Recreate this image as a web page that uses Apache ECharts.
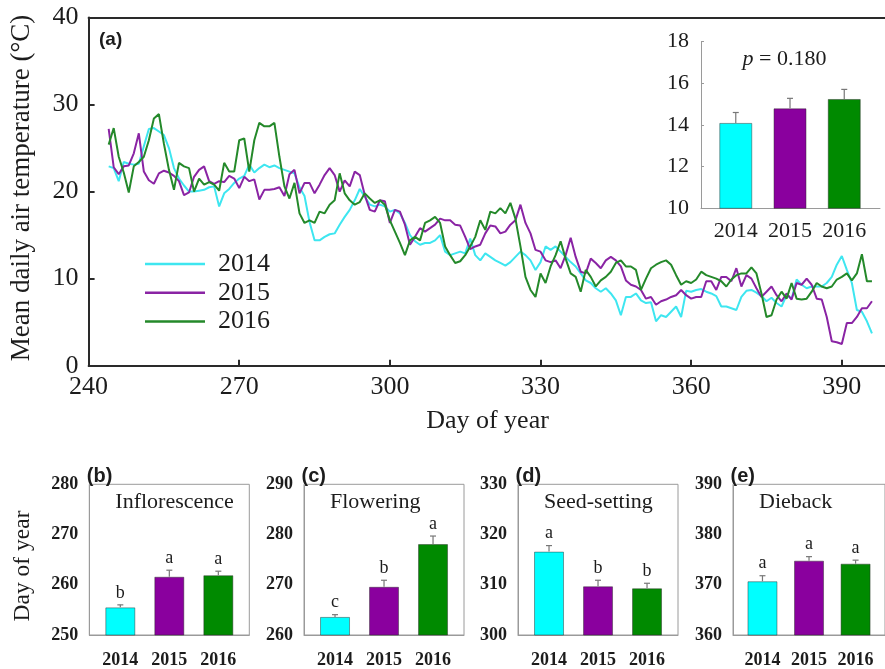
<!DOCTYPE html>
<html>
<head>
<meta charset="utf-8">
<script src="https://cdn.jsdelivr.net/npm/echarts@6/dist/echarts.min.js"></script>
<style>
  html, body { margin: 0; padding: 0; background: #fff; }
  #chart { width: 885px; height: 669px; }
</style>
</head>
<body>
<div id="chart"></div>
<script>
// ---- Daily mean air temperature, day of year 244-396 ----
const days = [
  244,245,246,247,248,249,250,251,252,253,254,255,256,257,258,259,260,261,262,263,
  264,265,266,267,268,269,270,271,272,273,274,275,276,277,278,279,280,281,282,283,
  284,285,286,287,288,289,290,291,292,293,294,295,296,297,298,299,300,301,302,303,
  304,305,306,307,308,309,310,311,312,313,314,315,316,317,318,319,320,321,322,323,
  324,325,326,327,328,329,330,331,332,333,334,335,336,337,338,339,340,341,342,343,
  344,345,346,347,348,349,350,351,352,353,354,355,356,357,358,359,360,361,362,363,
  364,365,366,367,368,369,370,371,372,373,374,375,376,377,378,379,380,381,382,383,
  384,385,386,387,388,389,390,391,392,393,394,395,396
];
const temp2014 = [
  22.9,22.7,21.2,23.4,23.2,23.1,23.2,25.2,27.2,27.3,
  26.9,26.5,25.0,22.7,21.5,20.7,20.0,20.0,20.1,20.2,
  20.5,20.6,18.3,19.8,20.3,21.0,21.5,21.8,23.1,22.2,
  22.7,23.1,22.8,23.0,22.7,22.5,22.3,22.1,20.5,19.5,
  16.5,14.4,14.4,14.8,15.1,15.2,16.2,17.1,17.9,19.0,
  20.3,19.4,18.5,18.3,18.5,18.3,17.7,17.9,17.5,16.4,
  15.0,14.3,13.9,14.1,14.1,14.4,15.0,13.1,12.7,12.9,
  13.1,12.9,14.6,12.7,12.1,12.9,12.5,12.1,11.8,11.5,
  11.9,12.5,13.1,12.7,12.1,11.0,11.9,13.7,13.3,13.7,
  13.1,12.5,11.9,11.4,10.6,9.8,9.5,8.9,8.5,8.9,
  8.3,7.5,5.8,7.9,7.9,8.3,7.5,7.2,7.3,5.1,
  5.8,5.6,6.2,6.8,5.6,8.6,8.5,8.7,8.8,8.5,
  8.3,8.0,6.8,6.8,6.6,6.4,7.9,8.6,8.7,8.4,
  8.0,7.4,7.8,7.2,6.8,8.1,7.7,9.9,9.3,8.9,
  9.1,9.1,9.1,9.5,10.2,11.6,12.6,11.0,9.5,6.4,
  6.2,5.1,3.7
];
const temp2015 = [
  27.2,22.8,22.0,22.9,23.0,24.4,26.7,22.3,21.3,20.9,
  22.1,22.4,22.2,21.8,21.2,19.6,19.9,21.7,22.5,22.9,
  21.2,20.9,21.2,21.1,21.8,21.5,20.4,21.7,21.2,21.4,
  19.1,20.2,20.2,20.3,20.5,19.5,22.0,22.5,19.8,21.0,
  21.0,19.8,20.8,21.9,22.7,21.9,20.0,21.3,20.6,22.3,
  21.9,19.6,17.9,17.7,19.0,18.9,16.4,17.9,17.7,16.2,
  13.9,14.8,15.8,15.4,15.8,16.2,16.9,16.7,16.7,16.2,
  16.1,14.8,13.4,13.7,13.9,15.2,16.1,16.0,15.2,15.4,
  16.2,16.7,18.5,16.4,15.2,13.3,13.1,12.1,11.9,12.1,
  11.2,12.7,14.7,12.5,10.8,10.6,12.3,11.8,11.2,12.1,
  12.5,12.1,11.4,9.8,9.3,9.1,8.7,7.7,7.9,7.0,
  7.4,7.6,7.9,8.1,8.7,8.1,7.7,7.9,7.9,9.7,
  9.7,8.7,10.2,10.2,9.7,11.2,9.1,10.4,10.0,8.9,
  7.9,8.5,9.1,8.1,7.4,8.3,7.6,9.5,9.3,10.0,
  9.3,7.7,7.6,5.6,2.8,2.7,2.5,4.9,4.9,5.6,
  6.6,6.6,7.4
];
const temp2016 = [
  25.4,27.3,24.0,22.2,19.9,22.9,23.4,24.0,25.9,28.4,
  28.9,25.5,22.5,20.2,23.3,22.9,22.7,20.0,21.5,20.8,
  21.1,20.8,20.1,23.3,22.3,22.3,25.9,26.1,22.3,25.9,
  27.9,27.5,27.5,27.9,24.0,20.6,19.2,21.0,17.5,16.4,
  16.7,16.4,17.7,17.5,18.5,19.0,22.1,19.8,19.0,18.5,
  18.8,19.8,19.2,18.7,19.0,18.5,16.7,15.4,14.1,12.7,
  14.4,14.8,14.4,16.4,16.7,17.1,16.4,13.7,12.7,11.8,
  12.0,12.7,13.7,14.8,16.7,15.6,17.7,17.5,18.1,17.5,
  18.7,16.9,13.7,10.2,8.7,7.9,10.6,9.5,11.4,12.7,
  14.3,12.3,10.6,10.2,8.5,11.0,10.2,9.1,9.8,10.2,
  10.8,11.8,12.1,11.4,11.4,11.0,8.7,10.0,11.2,11.6,
  11.9,12.1,11.6,10.4,9.3,9.7,9.5,9.9,10.8,10.4,
  10.2,10.0,9.7,9.1,9.9,10.4,10.6,10.6,11.3,10.6,
  8.3,5.6,5.8,7.6,8.5,7.7,9.5,7.7,7.6,7.7,
  8.5,9.5,9.1,8.9,9.1,9.9,10.2,10.6,9.8,10.6,
  12.8,9.7,9.7
];

// ---- Season mean temperature (inset) ----
const years = ['2014', '2015', '2016'];
const seasonMean = [14.1, 14.8, 15.25];
const seasonErr = [0.5, 0.48, 0.46];
const pText = '{i|p} = 0.180';

// ---- Phenological phases (day of year) ----
const panelTags = ['(b)', '(c)', '(d)', '(e)'];
const phaseNames = ['Inflorescence', 'Flowering', 'Seed-setting', 'Dieback'];
const inflMean = [255.5, 261.6, 261.9];
const inflErr = [0.5, 1.3, 0.8];
const inflLetters = ['b', 'a', 'a'];
const flowMean = [263.6, 269.6, 278.1];
const flowErr = [0.45, 1.3, 1.6];
const flowLetters = ['c', 'b', 'a'];
const seedMean = [316.6, 309.7, 309.3];
const seedErr = [1.2, 1.2, 1.0];
const seedLetters = ['a', 'b', 'b'];
const diebackMean = [370.7, 374.8, 374.2];
const diebackErr = [1.1, 0.8, 0.7];
const diebackLetters = ['a', 'a', 'a'];
const phaseRanges = [[250, 280], [260, 290], [300, 330], [360, 390]];

// ---- styling ----
const lineColors = ['#3ee6f0', '#8a24a4', '#24892a'];
const barColors = ['#00ffff', '#8a009e', '#008a00'];
const SERIF = '"Liberation Serif", "Times New Roman", serif';
const SANS = '"Liberation Sans", Arial, sans-serif';
const INK = '#1c1c1c';
const FRAME = '#2a2a2a';

const chart = echarts.init(document.getElementById('chart'), null, { renderer: 'canvas' });

const grids = [];
const xAxes = [];
const yAxes = [];
const series = [];
const graphics = [];

// main time-series panel (open on the right, runs to the page edge)
grids.push({ left: 88.6, top: 17.5, width: 796.4, height: 348.2, show: false });
xAxes.push({
  gridIndex: 0, type: 'value', min: 240, max: 398.6, interval: 30,
  axisLine: { lineStyle: { color: FRAME, width: 2 } },
  axisTick: { inside: true, length: 6, lineStyle: { color: FRAME, width: 2 } },
  axisLabel: { showMaxLabel: false, margin: 8, color: INK, fontFamily: SERIF, fontSize: 26 },
  splitLine: { show: false }
});
// top frame line of the main panel
xAxes.push({
  gridIndex: 0, type: 'value', position: 'top', min: 240, max: 398.6,
  axisLine: { show: true, onZero: false, lineStyle: { color: FRAME, width: 2 } },
  axisTick: { show: false }, axisLabel: { show: false }, splitLine: { show: false }
});
yAxes.push({
  gridIndex: 0, type: 'value', min: 0, max: 40, interval: 10,
  axisLine: { show: true, lineStyle: { color: FRAME, width: 2 } },
  axisTick: { show: true, inside: true, length: 6, lineStyle: { color: FRAME, width: 2 } },
  axisLabel: { margin: 10, color: INK, fontFamily: SERIF, fontSize: 26 },
  splitLine: { show: false }
});
[temp2014, temp2015, temp2016].forEach((arr, k) => {
  series.push({
    name: years[k], type: 'line', xAxisIndex: 0, yAxisIndex: 0,
    symbol: 'none', showSymbol: false, animation: false,
    lineStyle: { color: lineColors[k], width: 2 },
    itemStyle: { color: lineColors[k] },
    data: days.map((d, i) => [d, arr[i]])
  });
});

// error bars with optional letters above
function errorSeries(xi, yi, means, errs, letters, fontSize, capHalf, color) {
  return {
    type: 'custom', xAxisIndex: xi, yAxisIndex: yi, animation: false, silent: true, z: 5,
    data: means.map((m, i) => [i + 1, m, errs[i]]),
    renderItem: function (params, api) {
      const x = api.value(0), v = api.value(1), e = api.value(2);
      const b = api.coord([x, v]);
      const t = api.coord([x, v + e]);
      const children = [
        { type: 'line', shape: { x1: b[0], y1: b[1], x2: t[0], y2: t[1] }, style: { stroke: color, lineWidth: 1.2 } },
        { type: 'line', shape: { x1: t[0] - capHalf, y1: t[1], x2: t[0] + capHalf, y2: t[1] }, style: { stroke: color, lineWidth: 1.2 } }
      ];
      if (letters) {
        children.push({
          type: 'text',
          style: {
            text: letters[params.dataIndex], x: t[0], y: t[1] - 3,
            align: 'center', verticalAlign: 'bottom',
            fontFamily: SERIF, fontSize: fontSize, fill: INK
          }
        });
      }
      return { type: 'group', children: children };
    }
  };
}

function barSeries(xi, yi, means, width) {
  return {
    type: 'bar', xAxisIndex: xi, yAxisIndex: yi, barWidth: width, animation: false, clip: true,
    data: means.map((m, i) => ({ value: [i + 1, m], itemStyle: { color: barColors[i] } })),
    itemStyle: { borderColor: 'rgba(40,40,40,0.45)', borderWidth: 1 }
  };
}

// inset: season mean temperature
grids.push({ left: 701, top: 41.7, width: 179, height: 166.6, show: false });
xAxes.push({
  gridIndex: 1, type: 'value', min: 0.359, max: 3.659,
  axisLine: { show: true, onZero: false, lineStyle: { color: '#9a9a9a', width: 1 } },
  axisTick: { show: false },
  axisLabel: { customValues: [1, 2, 3], formatter: v => years[v - 1], margin: 12, color: INK, fontFamily: SERIF, fontSize: 22 },
  splitLine: { show: false }
});
yAxes.push({
  gridIndex: 1, type: 'value', min: 10, max: 18, interval: 2,
  axisLine: { show: true, lineStyle: { color: '#9a9a9a', width: 1 } },
  axisTick: { show: true, inside: true, length: 3, lineStyle: { color: '#9a9a9a' } },
  axisLabel: { margin: 12, color: INK, fontFamily: SERIF, fontSize: 22 },
  splitLine: { show: false }
});
series.push(barSeries(2, 1, seasonMean, 33));
series.push(errorSeries(2, 1, seasonMean, seasonErr, null, 18, 3, '#777'));

// phenology panels
const panelLefts = [89.3, 304, 518, 733];
const panelMeans = [inflMean, flowMean, seedMean, diebackMean];
const panelErrs = [inflErr, flowErr, seedErr, diebackErr];
const panelLetters = [inflLetters, flowLetters, seedLetters, diebackLetters];
panelLefts.forEach((left, p) => {
  const gi = 2 + p;
  const xi = 3 + p;
  grids.push({ left: left, top: 484.3, width: 160, height: 153, show: true, borderColor: '#9a9a9a', borderWidth: 1 });
  xAxes.push({
    gridIndex: gi, type: 'value', min: 0.367, max: 3.632,
    axisLine: { show: true, onZero: false, lineStyle: { color: '#9a9a9a', width: 1 } },
    axisTick: { show: false },
    axisLabel: { customValues: [1, 2, 3], formatter: v => years[v - 1], margin: 16, color: INK, fontFamily: SERIF, fontSize: 18, fontWeight: 'bold' },
    splitLine: { show: false }
  });
  yAxes.push({
    gridIndex: gi, type: 'value', min: phaseRanges[p][0], max: phaseRanges[p][1], interval: 10,
    axisLine: { show: true, lineStyle: { color: '#9a9a9a', width: 1 } },
    axisTick: { show: false },
    axisLabel: { margin: 11, color: INK, fontFamily: SERIF, fontSize: 18, fontWeight: 'bold' },
    splitLine: { show: false }
  });
  series.push(barSeries(xi, gi, panelMeans[p], 30));
  series.push(errorSeries(xi, gi, panelMeans[p], panelErrs[p], panelLetters[p], 18, 3, '#777'));

  graphics.push({
    type: 'text', left: left - 2.5, top: 466,
    style: { text: panelTags[p], font: 'bold 20px ' + SANS, fill: INK }
  });
  graphics.push({
    type: 'text', left: left + 26, top: 491,
    style: { text: phaseNames[p], font: '22px ' + SERIF, fill: INK }
  });
});

// titles and annotations
graphics.push({
  type: 'text', left: 99, top: 30,
  style: { text: '(a)', font: 'bold 19px ' + SANS, fill: INK }
});
graphics.push({
  type: 'text', x: 22, y: 188, rotation: Math.PI / 2,
  style: { text: 'Mean daily air temperature (\u00B0C)', font: '27px ' + SERIF, fill: INK, align: 'center', verticalAlign: 'middle' }
});
graphics.push({
  type: 'text', x: 487.5, y: 421,
  style: { text: 'Day of year', font: '26px ' + SERIF, fill: INK, align: 'center', verticalAlign: 'middle' }
});
graphics.push({
  type: 'text', x: 23, y: 566, rotation: Math.PI / 2,
  style: { text: 'Day of year', font: '23.5px ' + SERIF, fill: INK, align: 'center', verticalAlign: 'middle' }
});
graphics.push({
  type: 'text', x: 784.5, y: 59,
  style: {
    text: pText, align: 'center', verticalAlign: 'middle',
    font: '22px ' + SERIF, fill: INK,
    rich: { i: { fontStyle: 'italic', fontFamily: SERIF, fontSize: 22, fill: INK } }
  }
});

chart.setOption({
  backgroundColor: '#ffffff',
  animation: false,
  grid: grids,
  xAxis: xAxes,
  yAxis: yAxes,
  legend: {
    data: years, orient: 'vertical', left: 145, top: 250, padding: 0,
    icon: 'rect', itemWidth: 60, itemHeight: 2.5, itemGap: 0.7,
    textStyle: { fontFamily: SERIF, fontSize: 26, color: INK, lineHeight: 28, padding: [0, 0, 0, 8] },
    selectedMode: false
  },
  series: series,
  graphic: graphics
});
</script>
</body>
</html>
